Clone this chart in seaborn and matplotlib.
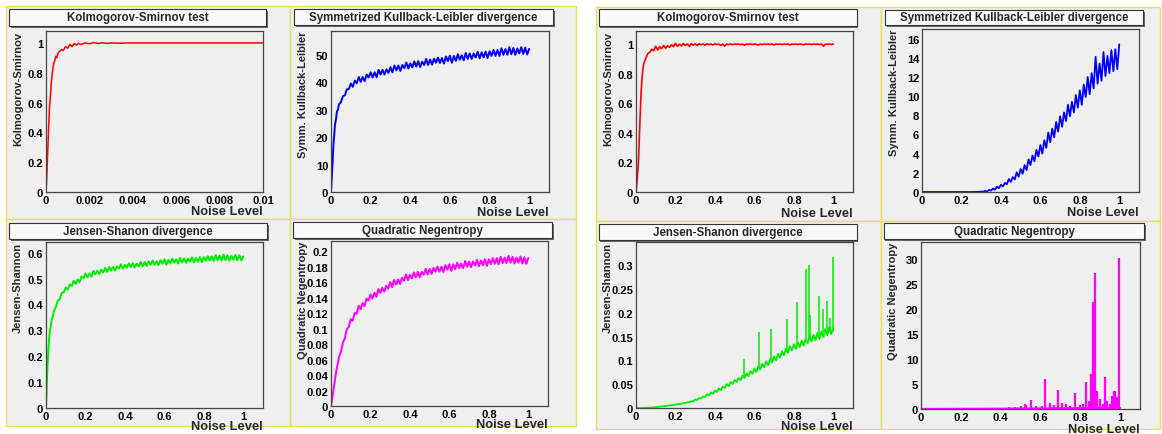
import matplotlib
matplotlib.use("Agg")
import matplotlib.pyplot as plt
import seaborn as sns
from matplotlib.patches import Rectangle
from matplotlib.ticker import MultipleLocator, AutoMinorLocator, FuncFormatter

W, H = 1162, 435

# ---- data ----
grid_x = [0, 0.004, 0.008, 0.012, 0.016, 0.02, 0.025, 0.03, 0.035, 0.04, 0.05, 0.06, 0.07, 0.08, 0.09,
          0.10, 0.11, 0.12, 0.13, 0.14, 0.15, 0.16, 0.17, 0.18, 0.19,
          0.20, 0.21, 0.22, 0.23, 0.24, 0.25, 0.26, 0.27, 0.28, 0.29,
          0.30, 0.31, 0.32, 0.33, 0.34, 0.35, 0.36, 0.37, 0.38, 0.39,
          0.40, 0.41, 0.42, 0.43, 0.44, 0.45, 0.46, 0.47, 0.48, 0.49,
          0.50, 0.51, 0.52, 0.53, 0.54, 0.55, 0.56, 0.57, 0.58, 0.59,
          0.60, 0.61, 0.62, 0.63, 0.64, 0.65, 0.66, 0.67, 0.68, 0.69,
          0.70, 0.71, 0.72, 0.73, 0.74, 0.75, 0.76, 0.77, 0.78, 0.79,
          0.80, 0.81, 0.82, 0.83, 0.84, 0.85, 0.86, 0.87, 0.88, 0.89,
          0.90, 0.91, 0.92, 0.93, 0.94, 0.95, 0.96, 0.97, 0.98, 0.99,
          1.00]

ks_left_x = [0, 0.00003, 0.00006, 0.0001, 0.00013, 0.00016, 0.0002, 0.00025, 0.0003, 0.00035,
             0.0004, 0.00045, 0.0005, 0.00055, 0.0006, 0.0007, 0.0008, 0.0009, 0.001, 0.0011,
             0.0012, 0.0013, 0.0014, 0.0015, 0.0016, 0.0018, 0.002, 0.0022, 0.0024, 0.0026,
             0.0028, 0.003, 0.0035, 0.0036, 0.004, 0.006, 0.008, 0.01]
ks_left_y = [0, 0.08, 0.2, 0.35, 0.47, 0.56, 0.64, 0.74, 0.81, 0.86,
             0.88, 0.91, 0.90, 0.93, 0.94, 0.955, 0.95, 0.975, 0.965, 0.99,
             0.975, 0.995, 0.985, 0.997, 0.99, 1.0, 0.995, 1.002, 0.996, 1.001,
             0.997, 1.0, 0.998, 1.0, 1.0, 1.0, 1.0, 1.0]

skl_left_y = [0, 5.5, 10.5, 17.0, 20.5, 24.5, 26.5, 29.5, 30.0, 32.0, 32.8, 35.0, 35.3, 37.5, 37.6,
              39.6, 38.4, 40.7, 39.7, 42.0, 40.2, 42.0, 40.5, 42.9, 41.8,
              43.7, 41.8, 43.7, 41.9, 44.6, 42.9, 44.6, 42.9, 44.8, 43.5,
              45.6, 43.7, 46.2, 44.4, 46.2, 44.2, 46.4, 45.2, 47.3, 45.1,
              47.0, 45.5, 47.7, 45.8, 47.8, 45.6, 47.6, 46.4, 48.6, 46.4,
              48.4, 46.5, 48.7, 47.2, 49.1, 47.1, 48.9, 46.9, 49.5, 47.8,
              49.8, 47.2, 49.7, 47.9, 50.3, 48.3, 49.9, 48.1, 50.8, 48.6,
              50.6, 48.6, 50.6, 49.1, 51.2, 48.8, 51.0, 49.2, 51.3, 48.9,
              51.4, 49.7, 51.9, 49.7, 51.9, 49.7, 52.5, 50.1, 52.2, 50.1,
              52.9, 50.3, 52.6, 50.1, 52.4, 50.6, 52.9, 50.4, 52.7, 50.2,
              52.3]

js_left_y = [0, 0.09, 0.17, 0.22, 0.27, 0.30, 0.32, 0.345, 0.355, 0.375, 0.39, 0.415, 0.42, 0.445, 0.447,
             0.465, 0.457, 0.477, 0.471, 0.491, 0.479, 0.496, 0.486, 0.508, 0.502,
             0.520, 0.505, 0.520, 0.507, 0.529, 0.516, 0.530, 0.517, 0.534, 0.524,
             0.541, 0.526, 0.545, 0.531, 0.545, 0.530, 0.547, 0.538, 0.555, 0.538,
             0.553, 0.541, 0.559, 0.544, 0.559, 0.542, 0.557, 0.547, 0.564, 0.547,
             0.563, 0.548, 0.566, 0.553, 0.569, 0.553, 0.567, 0.552, 0.571, 0.557,
             0.574, 0.553, 0.572, 0.558, 0.576, 0.561, 0.574, 0.558, 0.580, 0.562,
             0.578, 0.561, 0.577, 0.565, 0.582, 0.562, 0.580, 0.565, 0.583, 0.563,
             0.583, 0.569, 0.586, 0.569, 0.586, 0.568, 0.590, 0.571, 0.588, 0.570,
             0.592, 0.571, 0.589, 0.569, 0.587, 0.573, 0.591, 0.571, 0.590, 0.570,
             0.586]

qn_left_y = [0, 0.006, 0.013, 0.020, 0.027, 0.034, 0.042, 0.050, 0.055, 0.063, 0.070, 0.082, 0.087, 0.099, 0.102,
             0.1120, 0.1101, 0.1202, 0.1188, 0.1294, 0.1250, 0.1329, 0.1288, 0.1387, 0.1361,
             0.1440, 0.1386, 0.1462, 0.1408, 0.1509, 0.1460, 0.1526, 0.1477, 0.1553, 0.1514,
             0.1600, 0.1536, 0.1627, 0.1568, 0.1634, 0.1575, 0.1656, 0.1617, 0.1698, 0.1624,
             0.1695, 0.1647, 0.1724, 0.1661, 0.1733, 0.1660, 0.1732, 0.1694, 0.1771, 0.1698,
             0.1770, 0.1705, 0.1785, 0.1735, 0.1800, 0.1735, 0.1800, 0.1730, 0.1820, 0.1760,
             0.1830, 0.1744, 0.1828, 0.1767, 0.1851, 0.1780, 0.1839, 0.1778, 0.1872, 0.1796,
             0.1865, 0.1793, 0.1866, 0.1814, 0.1887, 0.1805, 0.1878, 0.1816, 0.1894, 0.1807,
             0.1895, 0.1832, 0.1909, 0.1836, 0.1908, 0.1830, 0.1927, 0.1844, 0.1916, 0.1843,
             0.1940, 0.1850, 0.1925, 0.1840, 0.1915, 0.1850, 0.1930, 0.1840, 0.1920, 0.1835,
             0.1910]

ks_right_y = [0, 0.05, 0.12, 0.20, 0.33, 0.48, 0.65, 0.76, 0.83, 0.87, 0.905, 0.935, 0.945, 0.965, 0.955,
              0.985, 0.960, 0.982, 0.968, 0.990, 0.972, 0.988, 0.978, 0.995, 0.982,
              1.005, 0.985, 0.998, 0.988, 1.003, 0.990, 1.000, 0.985, 1.002, 0.993,
              1.001, 0.992, 1.002, 0.995, 1.000, 0.993, 1.001, 0.996, 1.000, 0.994,
              1.001, 0.997, 1.000, 0.990, 1.000, 0.985, 1.000, 0.997, 1.000, 0.996,
              1.000, 0.998, 1.000, 0.996, 1.000, 0.992, 1.000, 0.998, 1.000, 0.997,
              1.000, 0.998, 0.993, 1.000, 0.997, 1.000, 0.998, 1.000, 0.997, 1.000,
              0.994, 1.000, 0.998, 1.000, 0.997, 1.000, 0.998, 1.000, 0.994, 1.000,
              0.998, 1.000, 0.997, 1.000, 0.998, 0.995, 1.000, 0.998, 1.000, 0.997,
              1.000, 0.998, 1.000, 0.997, 1.000, 0.985, 1.000, 0.998, 1.000, 0.997,
              1.000]

skl_right_y = [0, 0, 0, 0, 0, 0, 0, 0, 0, 0, 0, 0, 0, 0, 0,
               0, 0, 0, 0, 0, 0, 0, 0, 0, 0,
               0, 0, 0, 0, 0, 0, 0.01, 0, 0.02, 0.01,
               0.05, 0.02, 0.12, 0.05, 0.22, 0.15, 0.35, 0.25, 0.55, 0.40,
               0.75, 0.58, 0.95, 0.80, 1.35, 1.05, 1.55, 1.30, 2.05, 1.60,
               2.40, 1.90, 2.80, 2.30, 3.40, 2.80, 3.80, 3.20, 4.40, 3.70,
               4.90, 4.00, 5.40, 4.60, 6.20, 5.20, 6.60, 5.70, 7.30, 6.30,
               7.90, 6.80, 8.30, 7.40, 9.10, 7.90, 9.40, 8.30, 10.10, 8.80,
               10.60, 9.10, 11.20, 9.90, 12.00, 10.20, 12.40, 10.80, 14.10, 11.30,
               13.40, 11.60, 14.60, 12.10, 14.20, 12.40, 14.80, 12.60, 14.90, 12.80,
               15.40]

js_right_y = [0, 0, 0, 0, 0, 0, 0, 0, 0, 0, 0.0005, 0.0005, 0.001, 0.001, 0.0015,
              0.0020, 0.0025, 0.0028, 0.0032, 0.0038, 0.0042, 0.0048, 0.0052, 0.0060, 0.0064,
              0.0072, 0.0078, 0.0085, 0.0090, 0.0102, 0.0105, 0.0120, 0.0122, 0.0142, 0.0140,
              0.0180, 0.0170, 0.0210, 0.0200, 0.0245, 0.0230, 0.0285, 0.0265, 0.0325, 0.0300,
              0.0365, 0.0340, 0.0410, 0.0375, 0.0450, 0.0420, 0.0500, 0.0460, 0.0545, 0.0505,
              0.0590, 0.0545, 0.0630, 0.0585, 0.0680, 0.0630, 0.0725, 0.0670, 0.0775, 0.0720,
              0.0830, 0.0760, 0.0880, 0.0810, 0.0925, 0.0860, 0.0980, 0.0900, 0.1030, 0.0960,
              0.1085, 0.1000, 0.1140, 0.1060, 0.1195, 0.1110, 0.1250, 0.1160, 0.1300, 0.1210,
              0.1340, 0.1240, 0.1380, 0.1280, 0.1420, 0.1310, 0.1450, 0.1360, 0.1500, 0.1400,
              0.1540, 0.1420, 0.1580, 0.1450, 0.1610, 0.1490, 0.1660, 0.1530, 0.1700, 0.1550,
              0.1680]
js_spike_x = [0.547, 0.625, 0.684, 0.764, 0.818, 0.861, 0.875, 0.882, 0.926, 0.95, 0.966, 0.985, 0.997]
js_spike_base = [0.065, 0.085, 0.098, 0.118, 0.132, 0.142, 0.145, 0.147, 0.152, 0.155, 0.158, 0.160, 0.160]
js_spike_top = [0.103, 0.160, 0.167, 0.188, 0.223, 0.293, 0.300, 0.195, 0.235, 0.208, 0.224, 0.190, 0.318]

qn_right_base_x = [0, 0.4, 0.6, 0.8, 1.0]
qn_right_base_y = [0, 0.05, 0.1, 0.15, 0.2]
qn_spike_x = [0.44, 0.47, 0.50, 0.52, 0.525, 0.55, 0.58, 0.61, 0.625, 0.65, 0.67, 0.69, 0.71, 0.73,
              0.75, 0.775, 0.80, 0.815, 0.83, 0.845, 0.855, 0.865, 0.875, 0.885, 0.90, 0.915, 0.925,
              0.935, 0.95, 0.96, 0.968, 0.975, 0.985, 0.995]
qn_spike_top = [0.3, 0.4, 0.5, 1.0, 0.7, 1.8, 0.6, 0.6, 5.9, 1.1, 0.8, 3.7, 1.1, 0.9,
                0.5, 3.2, 0.8, 1.0, 5.3, 1.5, 7.0, 21.4, 27.2, 3.6, 2.0, 1.0, 6.3,
                1.5, 1.0, 2.6, 3.6, 3.5, 2.4, 30.2]

# ---- style ----
sns.set_style("white")
plt.rcParams["font.family"] = ["Liberation Sans", "DejaVu Sans"]
plt.rcParams["font.weight"] = "bold"
plt.rcParams["axes.labelweight"] = "bold"

PAD_COLOR = "#efefef"
BORDER = "#e3e05a"
FRAME = "#444444"


def fig_rect(x0, y0, x1, y1):
    return [x0 / W, 1 - y1 / H, (x1 - x0) / W, (y1 - y0) / H]


fig = plt.figure(figsize=(W / 100, H / 100), dpi=100)
fig.patch.set_facecolor("white")

pads = [(6, 7, 290, 220), (290, 7, 576, 220), (6, 220, 290, 427), (290, 220, 576, 427),
        (596, 8, 881, 222), (881, 8, 1160, 222), (596, 222, 881, 430), (881, 222, 1160, 430)]
for p in pads:
    r = fig_rect(*p)
    fig.add_artist(Rectangle((r[0], r[1]), r[2], r[3], transform=fig.transFigure,
                             facecolor=PAD_COLOR, edgecolor=BORDER, lw=1.0, zorder=-5))

panels = [
    dict(ax=(46, 32, 263, 193), box=(9, 10, 266, 27), title="Kolmogorov-Smirnov test",
         ylabel="Kolmogorov-Smirnov", x=ks_left_x, y=ks_left_y, color="#ff0000", lw=1.1,
         xmax=0.01, ymax=1.08, xstep=0.002, ystep=0.2, xlab_y=-0.08),
    dict(ax=(331, 32, 549, 193), box=(294, 10, 553, 26), title="Symmetrized Kullback-Leibler divergence",
         ylabel="Symm. Kullback-Leibler", x=grid_x, y=skl_left_y, color="#0000ff", lw=1.4,
         xmax=1.1, ymax=58.8, xstep=0.2, ystep=10, xlab_y=-0.09),
    dict(ax=(46, 243, 263, 409), box=(9, 224, 267, 240), title="Jensen-Shanon divergence",
         ylabel="Jensen-Shannon", x=grid_x, y=js_left_y, color="#00ee00", lw=1.4,
         xmax=1.1, ymax=0.641, xstep=0.2, ystep=0.1, xlab_y=-0.07),
    dict(ax=(331, 242, 548, 407), box=(293, 223, 552, 239), title="Quadratic Negentropy",
         ylabel="Quadratic Negentropy", x=grid_x, y=qn_left_y, color="#ff00ff", lw=1.4,
         xmax=1.1, ymax=0.213, xstep=0.2, ystep=0.02, xlab_y=-0.075),
    dict(ax=(636, 32, 853, 193), box=(599, 10, 857, 27), title="Kolmogorov-Smirnov test",
         ylabel="Kolmogorov-Smirnov", x=grid_x, y=ks_right_y, color="#ff0000", lw=1.2,
         xmax=1.1, ymax=1.088, xstep=0.2, ystep=0.2, xlab_y=-0.095),
    dict(ax=(922, 30, 1139, 193), box=(885, 11, 1143, 26), title="Symmetrized Kullback-Leibler divergence",
         ylabel="Symm. Kullback-Leibler", x=grid_x, y=skl_right_y, color="#0000ff", lw=1.3,
         xmax=1.1, ymax=17.0, xstep=0.2, ystep=2, xlab_y=-0.085),
    dict(ax=(636, 243, 853, 409), box=(599, 225, 857, 241), title="Jensen-Shanon divergence",
         ylabel="Jensen-Shannon", x=grid_x, y=js_right_y, color="#00ee00", lw=1.3,
         xmax=1.1, ymax=0.349, xstep=0.2, ystep=0.05, xlab_y=-0.07),
    dict(ax=(921, 243, 1140, 410), box=(884, 224, 1144, 240), title="Quadratic Negentropy",
         ylabel="Quadratic Negentropy", x=qn_right_base_x, y=qn_right_base_y, color="#ff00ff", lw=1.6,
         xmax=1.1, ymax=33.3, xstep=0.2, ystep=5, xlab_y=-0.085),
]

fmt = FuncFormatter(lambda v, pos: f"{v:g}")
axes = []
for p in panels:
    ax = fig.add_axes(fig_rect(*p["ax"]))
    ax.set_facecolor(PAD_COLOR)
    sns.lineplot(x=p["x"], y=p["y"], ax=ax, color=p["color"], lw=p["lw"],
                 estimator=None, sort=False, errorbar=None)
    ax.set_xlim(0, p["xmax"])
    ax.set_ylim(0, p["ymax"])
    ax.xaxis.set_major_locator(MultipleLocator(p["xstep"]))
    ax.yaxis.set_major_locator(MultipleLocator(p["ystep"]))
    ax.xaxis.set_minor_locator(AutoMinorLocator(4))
    ax.yaxis.set_minor_locator(AutoMinorLocator(5))
    ax.xaxis.set_major_formatter(fmt)
    ax.yaxis.set_major_formatter(fmt)
    ax.tick_params(which="both", direction="in", top=False, right=False,
                   colors=FRAME, labelcolor="black", labelsize=8, width=0.8)
    ax.tick_params(which="major", length=4, pad=2)
    ax.tick_params(which="minor", length=2)
    for s in ax.spines.values():
        s.set_color(FRAME)
        s.set_linewidth(0.9)
    ax.set_xlabel("Noise Level", fontsize=9.3, fontweight="bold", loc="right")
    ax.xaxis.set_label_coords(1.0, p["xlab_y"])
    ax.set_ylabel(p["ylabel"], fontsize=8, fontweight="bold", loc="top")
    ax.yaxis.set_label_coords(-0.105, 1.0)

    # title box with shadow
    bx = fig_rect(*p["box"])
    fig.add_artist(Rectangle((bx[0] + 1.5 / W, bx[1] - 1.5 / H), bx[2], bx[3], transform=fig.transFigure,
                             facecolor="#666666", edgecolor="none", zorder=4))
    fig.add_artist(Rectangle((bx[0], bx[1]), bx[2], bx[3], transform=fig.transFigure,
                             facecolor="#fafafa", edgecolor="#333333", lw=0.8, zorder=5))
    fig.text(bx[0] + bx[2] / 2, bx[1] + bx[3] / 2, p["title"], ha="center", va="center",
             fontsize=8.3, fontweight="bold", zorder=6)
    axes.append(ax)

# spikes on the right-hand Jensen-Shannon and Negentropy panels
axes[6].vlines(js_spike_x, js_spike_base, js_spike_top, color="#00ee00", lw=1.1)
axes[7].vlines(qn_spike_x, 0, qn_spike_top, color="#ff00ff", lw=1.6)

fig.savefig("out.png", dpi=100, facecolor="white")
